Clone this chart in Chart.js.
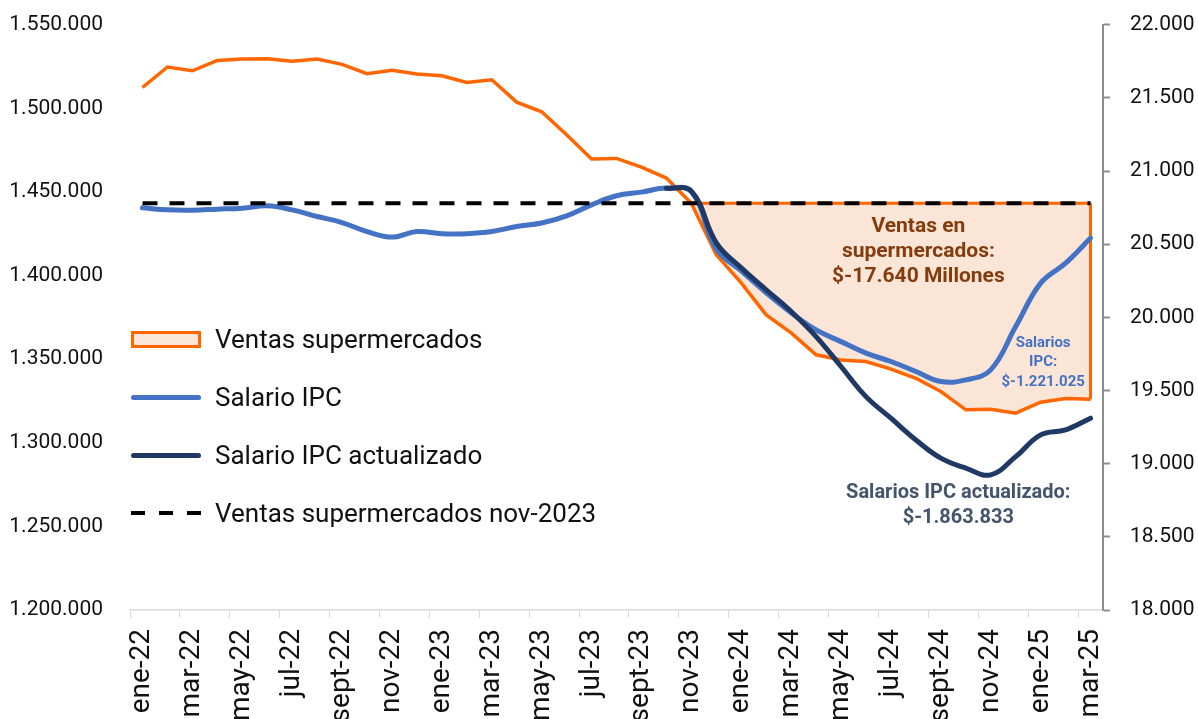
<!DOCTYPE html>
<html lang="es">
<head>
<meta charset="utf-8">
<script src="https://cdn.jsdelivr.net/npm/chart.js@4.4.1/dist/chart.umd.min.js"></script>
<style>
    html, body { margin: 0; padding: 0; background: #fff; }
    #wrap { position: relative; width: 1198px; height: 719px; overflow: hidden; }
    #legend {
        position: absolute; left: 131px; top: 310px;
        font-family: Roboto, sans-serif; font-size: 26px; color: #111;
    }
    .item { display: flex; align-items: center; height: 58px; }
    .sw { width: 70px; margin-right: 14px; box-sizing: border-box; }
</style>
</head>
<body>
<div id="wrap">
    <canvas id="chart" width="1198" height="719"></canvas>
    <div id="legend"></div>
</div>
<script>
// Ventas supermercados vs salario IPC, ene-22 a mar-25

const meses = [
    'ene-22', 'feb-22', 'mar-22', 'abr-22', 'may-22', 'jun-22', 'jul-22', 'ago-22', 'sept-22', 'oct-22', 'nov-22', 'dic-22',
    'ene-23', 'feb-23', 'mar-23', 'abr-23', 'may-23', 'jun-23', 'jul-23', 'ago-23', 'sept-23', 'oct-23', 'nov-23', 'dic-23',
    'ene-24', 'feb-24', 'mar-24', 'abr-24', 'may-24', 'jun-24', 'jul-24', 'ago-24', 'sept-24', 'oct-24', 'nov-24', 'dic-24',
    'ene-25', 'feb-25', 'mar-25'
];

// eje derecho
const ventas = [
    21571, 21711, 21685, 21756, 21765, 21768, 21750, 21765, 21729, 21665, 21688, 21663,
    21651, 21605, 21624, 21471, 21405, 21248, 21082, 21086, 21027, 20952, 20780, 20427,
    20236, 20017, 19894, 19744, 19709, 19698, 19646, 19584, 19493, 19368, 19372, 19345,
    19420, 19445, 19441
];
const nivelNov23 = 20780;
const idxNov23 = 22;

// eje izquierdo
const salarioIPC = [
    1440500, 1439300, 1439100, 1439700, 1440300, 1441700, 1439300, 1435300, 1431700, 1426300, 1423000, 1426300,
    1425000, 1425000, 1426300, 1429300, 1431400, 1435700, 1442300, 1447700, 1449900, 1452300, 1450100, 1416000,
    1402800, 1389700, 1377700, 1367500, 1360500, 1353600, 1348600, 1342600, 1336600, 1337600, 1343600, 1369500,
    1395500, 1407400, 1422400
];
const salarioActualizado = [
    null, null, null, null, null, null, null, null, null, null, null, null,
    null, null, null, null, null, null, null, null, null, 1452200, 1450500, 1419600,
    1404600, 1391500, 1378500, 1363500, 1345600, 1327600, 1314700, 1301700, 1290800, 1284800, 1280800, 1291700,
    1304700, 1307700, 1314700
];

const leftTicks = { min: 1200000, max: 1550000, step: 50000 };
const rightTicks = { min: 18000, max: 22000, step: 500 };

const colors = {
    orange: '#FF6600',
    peach: '#FBE5D6',
    blue: '#4472C4',
    navy: '#203864',
    brown: '#843C0C',
    slate: '#44546A',
    text: '#111111'
};

const annotations = [
    { lines: ['Ventas en', 'supermercados:', '$-17.640 Millones'], x: 31.1, y: 1429000, size: 21, lh: 25, color: colors.brown },
    { lines: ['Salarios', 'IPC:', '$-1.221.025'], x: 36.1, y: 1359800, size: 15, lh: 19.5, color: colors.blue },
    { lines: ['Salarios IPC actualizado:', '$-1.863.833'], x: 32.7, y: 1270000, size: 20, lh: 25, color: colors.slate }
];

function miles(v) {
    return String(v).replace(/\B(?=(\d{3})+(?!\d))/g, '.');
}

const tramo = ventas.map((v, i) => i >= idxNov23 ? v : null);
const tope = ventas.map((v, i) => i >= idxNov23 ? nivelNov23 : null);

// right edge of the shaded area + text notes
const extrasPlugin = {
    id: 'extras',
    afterDatasetDraw(chart, args) {
        if (args.index !== 1) return;
        const ctx = chart.ctx;
        const x = chart.scales.x.getPixelForValue(meses.length - 1);
        const y1 = chart.scales.y1;
        ctx.save();
        ctx.strokeStyle = colors.orange;
        ctx.lineWidth = 3;
        ctx.beginPath();
        ctx.moveTo(x, y1.getPixelForValue(nivelNov23));
        ctx.lineTo(x, y1.getPixelForValue(ventas[ventas.length - 1]));
        ctx.stroke();
        ctx.restore();
    },
    afterDatasetsDraw(chart) {
        const ctx = chart.ctx;
        const xs = chart.scales.x;
        const ys = chart.scales.y;
        ctx.save();
        ctx.textAlign = 'center';
        ctx.textBaseline = 'middle';
        annotations.forEach(a => {
            ctx.font = `bold ${a.size}px Roboto`;
            ctx.fillStyle = a.color;
            const x = xs.getPixelForValue(a.x);
            const y = ys.getPixelForValue(a.y);
            a.lines.forEach((t, k) => ctx.fillText(t, x, y + k * a.lh));
        });
        ctx.restore();
    }
};

const lineBase = { pointRadius: 0, pointHoverRadius: 0, spanGaps: false };

const config = {
    type: 'line',
    data: {
        labels: meses,
        datasets: [
            { ...lineBase, label: 'area', data: tramo, yAxisID: 'y1', borderWidth: 0,
              backgroundColor: colors.peach, fill: { value: nivelNov23 }, order: 10 },
            { ...lineBase, label: 'tope', data: tope, yAxisID: 'y1', borderColor: colors.orange,
              borderWidth: 3, fill: false, order: 9 },
            { ...lineBase, label: 'Ventas supermercados', data: ventas, yAxisID: 'y1',
              borderColor: colors.orange, borderWidth: 3.5, tension: 0, fill: false, order: 8 },
            { ...lineBase, label: 'Salario IPC', data: salarioIPC, yAxisID: 'y',
              borderColor: colors.blue, borderWidth: 5, tension: 0.4, fill: false, order: 7,
              borderCapStyle: 'round' },
            { ...lineBase, label: 'Salario IPC actualizado', data: salarioActualizado, yAxisID: 'y',
              borderColor: colors.navy, borderWidth: 5, tension: 0.4, fill: false, order: 6,
              borderCapStyle: 'round' },
            { ...lineBase, label: 'Ventas supermercados nov-2023', data: meses.map(() => nivelNov23), yAxisID: 'y1',
              borderColor: '#000', borderWidth: 4, borderDash: [15, 12], fill: false, order: 5 }
        ]
    },
    options: {
        responsive: false,
        animation: false,
        layout: { padding: 0 },
        plugins: {
            legend: { display: false },
            tooltip: { enabled: false }
        },
        scales: {
            x: {
                type: 'category',
                offset: true,
                afterFit(scale) { scale.height = 109; },
                grid: {
                    offset: true,
                    drawOnChartArea: false,
                    tickLength: 8,
                    tickColor: ctx => ctx.index % 2 === 0 ? '#D9D9D9' : 'rgba(0,0,0,0)'
                },
                border: { display: true, color: '#D9D9D9', width: 1.5 },
                ticks: {
                    autoSkip: false,
                    minRotation: 90,
                    maxRotation: 90,
                    padding: 11,
                    color: colors.text,
                    font: { family: 'Roboto', size: 28 },
                    callback: (v, i) => i % 2 === 0 ? meses[i] : ''
                }
            },
            y: {
                position: 'left',
                min: leftTicks.min,
                max: leftTicks.max,
                afterFit(scale) { scale.width = 130; },
                // tick marks hidden, tickLength only spaces the labels
                grid: { display: false, tickLength: 24 },
                border: { display: false },
                ticks: {
                    stepSize: leftTicks.step,
                    padding: 3,
                    color: colors.text,
                    font: { family: 'Roboto', size: 21, lineHeight: 0.45 },
                    callback: v => miles(v)
                }
            },
            y1: {
                position: 'right',
                min: rightTicks.min,
                max: rightTicks.max,
                afterFit(scale) { scale.width = 95; },
                grid: { display: true, drawOnChartArea: false, tickLength: 7, tickColor: '#8C8C8C', tickWidth: 2 },
                border: { display: true, color: '#8C8C8C', width: 2 },
                ticks: {
                    stepSize: rightTicks.step,
                    padding: 20,
                    color: colors.text,
                    font: { family: 'Roboto', size: 21, lineHeight: 0.45 },
                    callback: v => miles(v)
                }
            }
        }
    },
    plugins: [extrasPlugin]
};

new Chart(document.getElementById('chart'), config);

// leyenda
const legendItems = [
    { label: 'Ventas supermercados', css: `height:17px;border:3px solid ${colors.orange};background:${colors.peach};` },
    { label: 'Salario IPC', css: `height:5px;border-radius:3px;background:${colors.blue};` },
    { label: 'Salario IPC actualizado', css: `height:5px;border-radius:3px;background:${colors.navy};` },
    { label: 'Ventas supermercados nov-2023', css: 'height:4px;background:repeating-linear-gradient(to right,#000 0 14px,transparent 14px 28px);' }
];
document.getElementById('legend').innerHTML = legendItems
    .map(it => `<div class="item"><div class="sw" style="${it.css}"></div><span>${it.label}</span></div>`)
    .join('');
</script>
</body>
</html>
